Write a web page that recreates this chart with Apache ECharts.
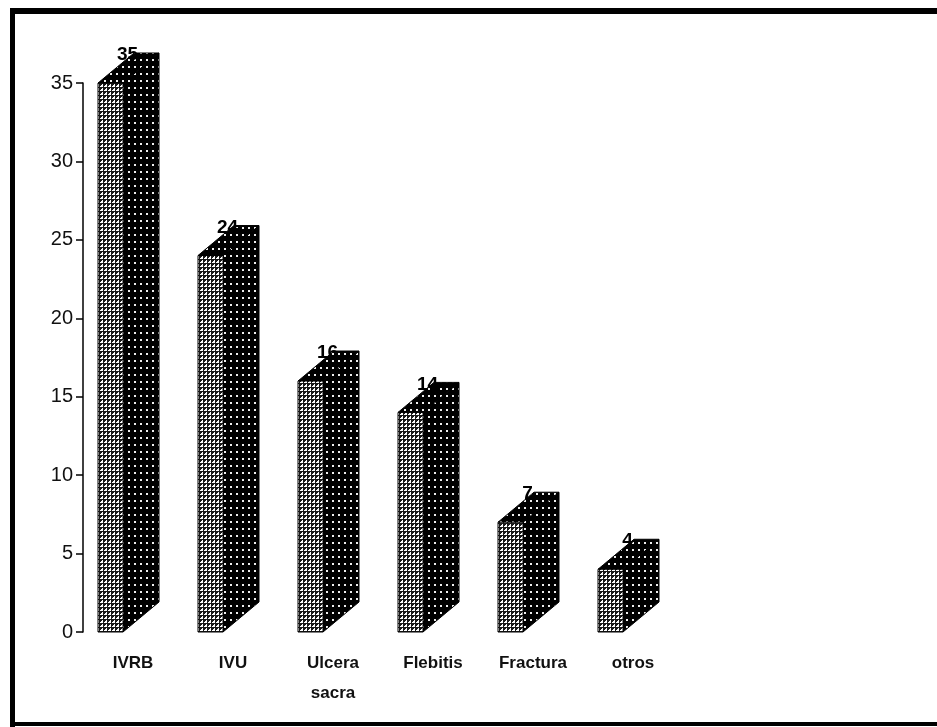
<!DOCTYPE html>
<html>
<head>
<meta charset="utf-8">
<script src="https://cdn.jsdelivr.net/npm/echarts@6/dist/echarts.min.js"></script>
<style>
  html, body { margin: 0; padding: 0; background: #fff; }
  #chart { width: 937px; height: 727px; }
</style>
</head>
<body>
<div id="chart"></div>
<script>
// Complications by type
const categories = ['IVRB', 'IVU', 'Ulcera\nsacra', 'Flebitis', 'Fractura', 'otros'];
const values = [35, 24, 16, 14, 7, 4];
const yMax = 35;
const yStep = 5;

// Hatch tiles for the column faces
function makeTile(w, h, draw) {
  const c = document.createElement('canvas');
  c.width = w; c.height = h;
  const g = c.getContext('2d');
  draw(g, w, h);
  return { image: c, repeat: 'repeat' };
}
// light front face: white cells on a dark lattice
const lightFill = makeTile(4, 4, function (g, w, h) {
  g.fillStyle = '#1a1a1a'; g.fillRect(0, 0, w, h);
  g.fillStyle = '#ffffff';
  g.fillRect(1, 1, 2, 2);
  g.fillRect(0, 2, 1, 1);
  g.fillRect(2, 0, 1, 1);
});
// dark side/top faces: black with small white specks
const darkFill = makeTile(6, 7, function (g, w, h) {
  g.fillStyle = '#000000'; g.fillRect(0, 0, w, h);
  g.fillStyle = '#eeeeee';
  g.fillRect(2, 3, 2, 2);
});

const chart = echarts.init(document.getElementById('chart'), null, { renderer: 'canvas' });

const FRONT_L = -35, FRONT_R = -10;   // front face relative to category centre
const DEPTH_X = 36, DEPTH_Y = -30;    // oblique depth of the columns
const FONT = 'Liberation Sans, Arial, sans-serif';

chart.setOption({
  backgroundColor: '#ffffff',
  animation: false,
  grid: { left: 83, top: 83, width: 600, bottom: 95 },
  xAxis: {
    type: 'category',
    data: categories,
    axisLine: { show: false },
    axisTick: { show: false },
    axisLabel: {
      margin: 16,
      fontFamily: FONT,
      fontWeight: 'bold',
      fontSize: 17,
      lineHeight: 30,
      color: '#111'
    }
  },
  yAxis: {
    type: 'value',
    min: 0,
    max: yMax,
    interval: yStep,
    splitLine: { show: false },
    axisLine: { show: true, lineStyle: { color: '#000', width: 1.5 } },
    axisTick: { show: true, length: 7, lineStyle: { color: '#000', width: 1.5 } },
    axisLabel: {
      margin: 10,
      fontFamily: FONT,
      fontSize: 20,
      color: '#111'
    }
  },
  series: [{
    type: 'custom',
    data: values.map(function (v, i) { return [i, v]; }),
    renderItem: function (params, api) {
      const i = api.value(0), v = api.value(1);
      const top = api.coord([i, v]);
      const base = api.coord([i, 0]);
      const cx = top[0];
      const xl = cx + FRONT_L, xr = cx + FRONT_R;
      const yt = top[1], yb = base[1];
      const stroke = { stroke: '#000', lineWidth: 1 };
      return {
        type: 'group',
        children: [
          {
            type: 'polygon',
            shape: { points: [[xr, yt], [xr + DEPTH_X, yt + DEPTH_Y], [xr + DEPTH_X, yb + DEPTH_Y], [xr, yb]] },
            style: Object.assign({ fill: darkFill }, stroke)
          },
          {
            type: 'polygon',
            shape: { points: [[xl, yt], [xl + DEPTH_X, yt + DEPTH_Y], [xr + DEPTH_X, yt + DEPTH_Y], [xr, yt]] },
            style: Object.assign({ fill: darkFill }, stroke)
          },
          {
            type: 'polygon',
            shape: { points: [[xl, yt], [xr, yt], [xr, yb], [xl, yb]] },
            style: Object.assign({ fill: lightFill }, stroke)
          },
          {
            type: 'text',
            style: {
              text: String(v),
              x: (xl + xr) / 2 + 17,
              y: yt - 28,
              align: 'center',
              verticalAlign: 'middle',
              fontFamily: FONT,
              fontWeight: 'bold',
              fontSize: 19,
              fill: '#000'
            }
          }
        ]
      };
    }
  }],
  graphic: [
    { type: 'rect', shape: { x: 10, y: 8, width: 5, height: 719 }, style: { fill: '#000' } },
    { type: 'rect', shape: { x: 10, y: 8, width: 927, height: 6 }, style: { fill: '#000' } },
    { type: 'rect', shape: { x: 10, y: 722, width: 927, height: 4 }, style: { fill: '#000' } }
  ]
});
</script>
</body>
</html>
